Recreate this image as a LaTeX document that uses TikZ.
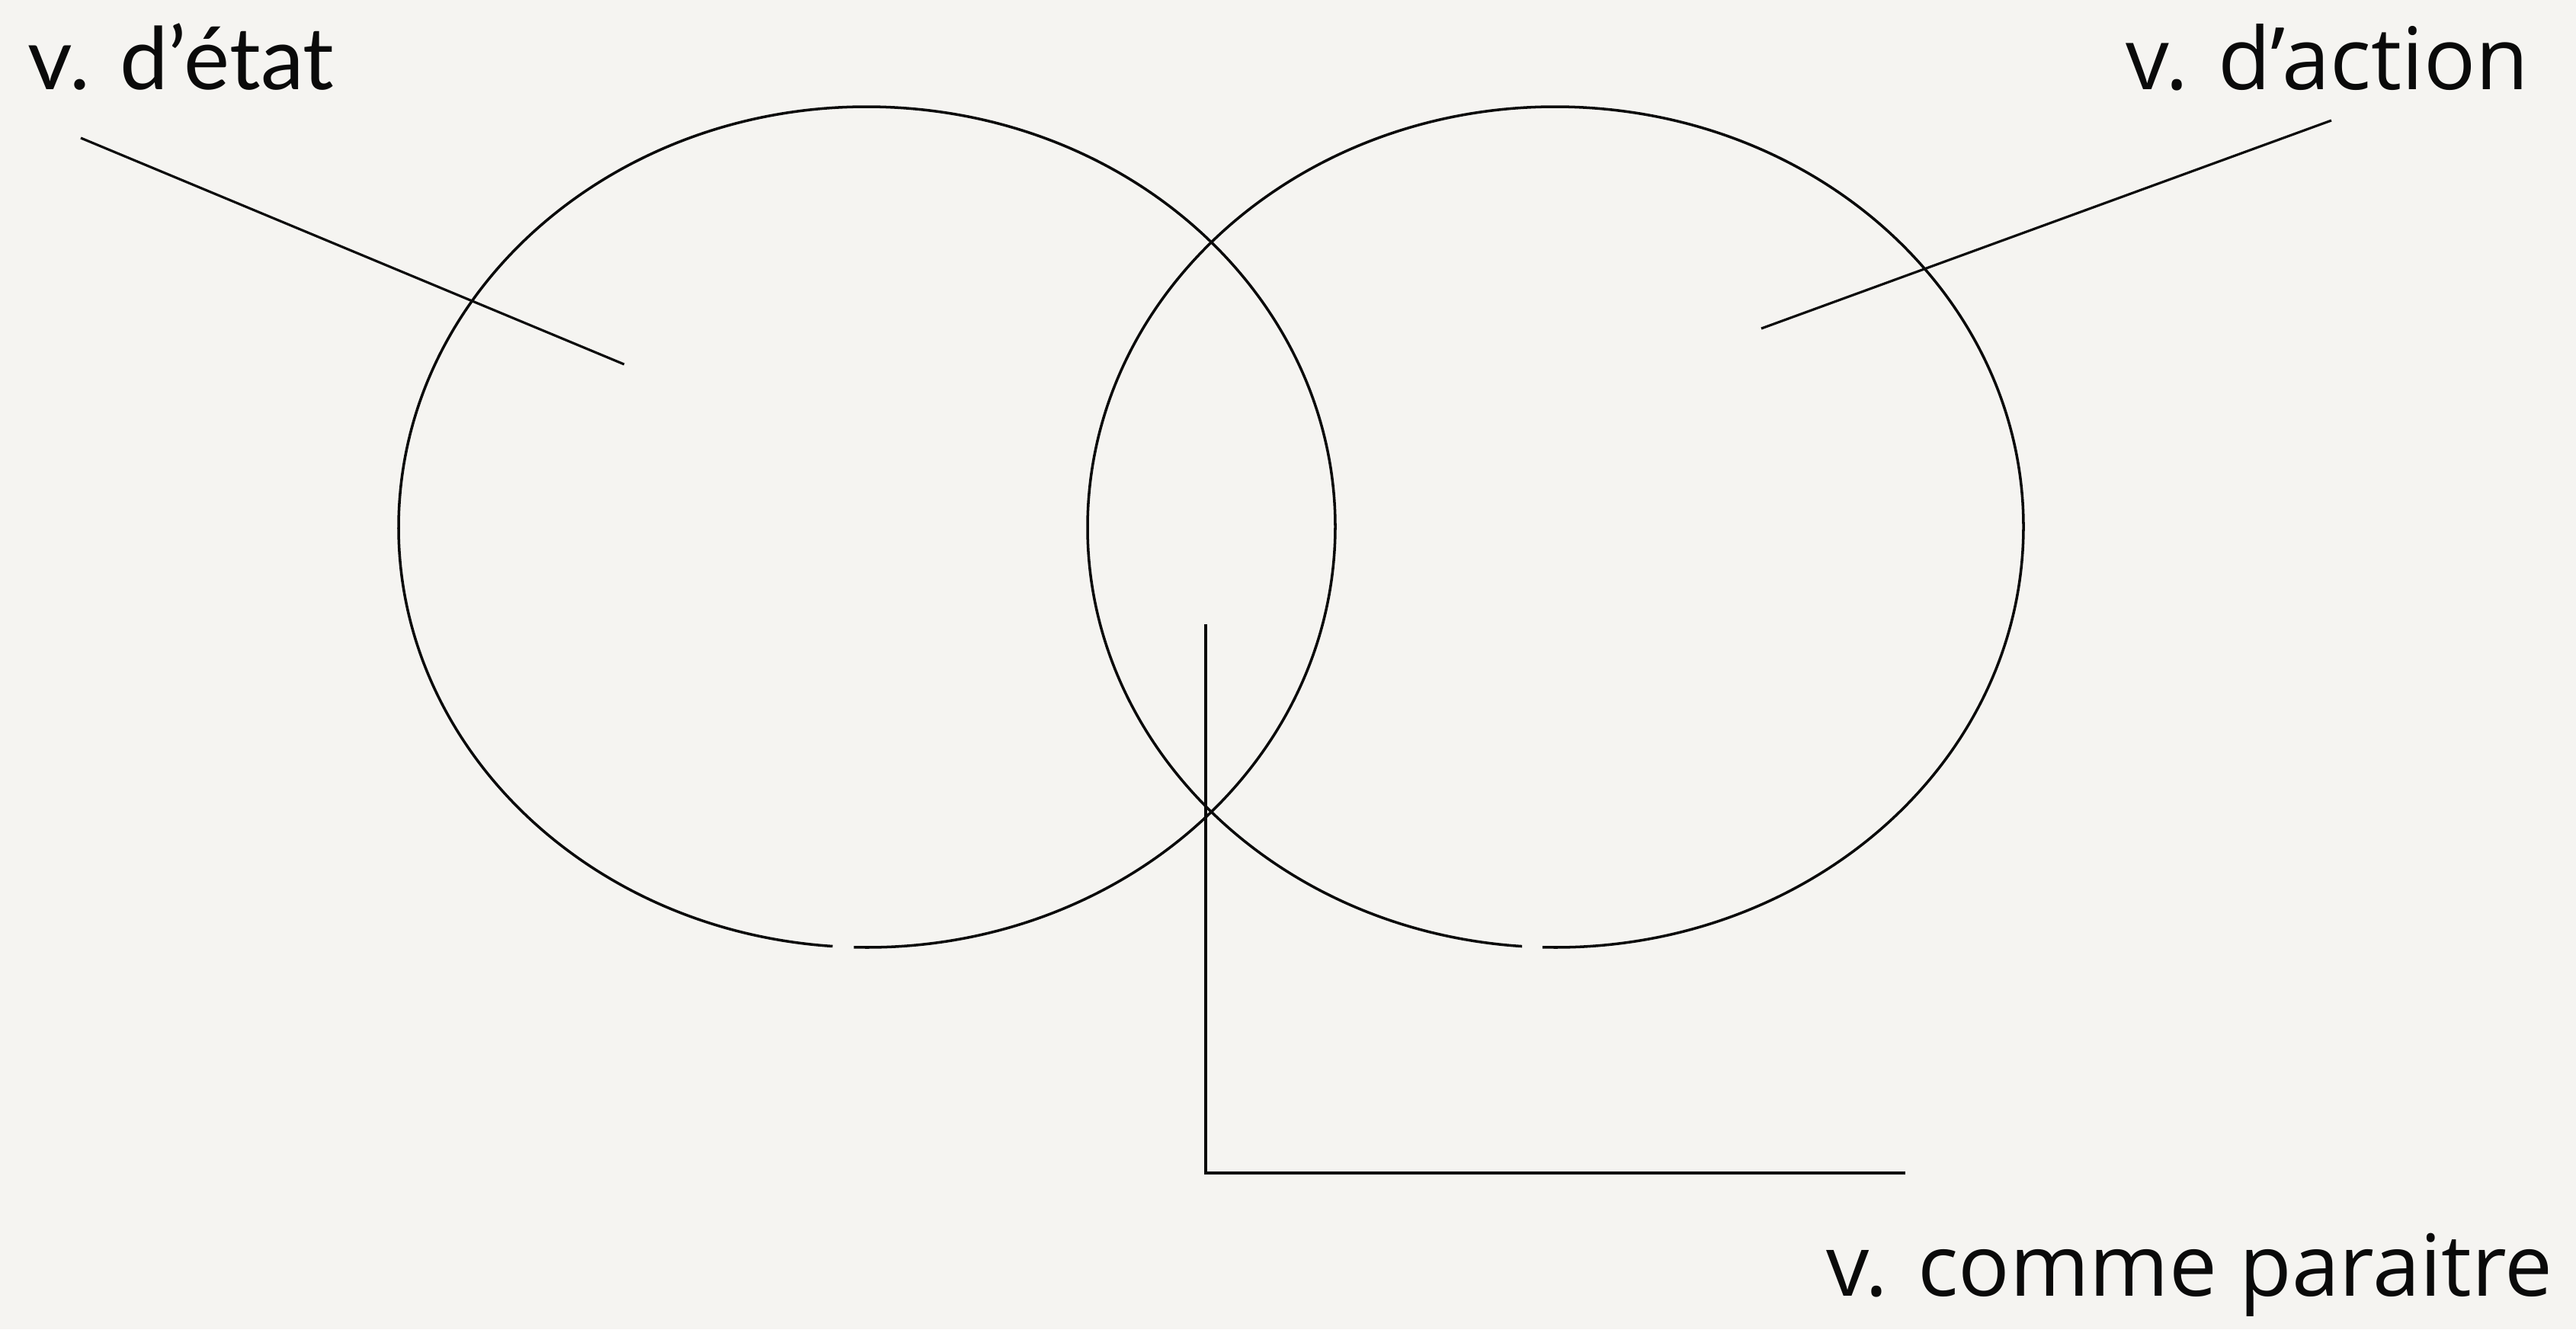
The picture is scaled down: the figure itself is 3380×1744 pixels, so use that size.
\documentclass[tikz,border=0pt]{standalone}
\usepackage{fontspec}
\setmainfont{Open Sans}
\newfontfamily\etatfont{Lato}
\definecolor{paper}{RGB}{245,244,241}
\definecolor{ink}{RGB}{10,10,10}
\begin{document}
\begin{tikzpicture}[x=0.01cm,y=-0.01cm,
  label/.style={anchor=base west,inner sep=0pt,outer sep=0pt,text=ink},
  thinline/.style={draw=ink,line width=0.9pt},
  shapeline/.style={draw=ink,line width=1pt}]
\fill[paper] (0,0) rectangle (3380,1744);
\useasboundingbox (0,0) rectangle (3380,1744);
% ellipses with small gap at the bottom
\draw[shapeline] (1137.5,691.5) ++(94.2:614.5 and 551.5) arc[start angle=94.2,end angle=451.6,x radius=614.5,y radius=551.5];
\draw[shapeline] (2041,691.5) ++(94.1:614 and 551.5) arc[start angle=94.1,end angle=451.6,x radius=614,y radius=551.5];
% labels
\node[label,font=\etatfont\fontsize{32.3}{39}\selectfont] (etat) at (37,117) {v. d’état};
\node[label,font=\fontsize{32.2}{38}\selectfont] (action) at (2789,117) {v. d’action};
\node[label,font=\fontsize{31.9}{38}\selectfont] (comme) at (2396,1700) {v. comme paraitre};
% connector end points
\coordinate (e1) at (106,181);
\coordinate (e2) at (819,478);
\coordinate (a1) at (3059,158);
\coordinate (a2) at (2311,431);
\coordinate (c1) at (1582,819);
\coordinate (c2) at (1582,1539);
\coordinate (c3) at (2500,1539);
\draw[thinline] (e1) -- (e2);
\draw[thinline] (a1) -- (a2);
\draw[thinline] (c1) -- (c2) -- (c3);
\end{tikzpicture}
\end{document}
